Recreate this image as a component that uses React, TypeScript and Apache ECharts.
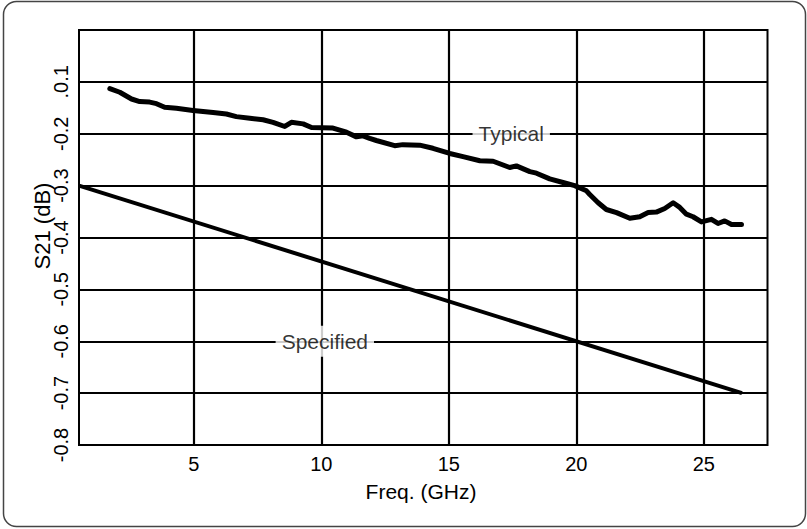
import React, { useEffect, useRef } from 'react';
import * as echarts from 'echarts';

const typicalFreq = [
  1.71, 2.1, 2.56, 2.88, 3.27, 3.54, 3.86, 4.32, 4.97, 5.76, 6.28, 6.67, 7.2, 7.72, 8.11, 8.57, 8.83,
  9.29, 9.62, 10.46, 10.99, 11.38, 11.64, 11.9, 12.16, 12.88, 13.2, 13.86, 14.38, 15.04, 15.56, 16.22,
  16.74, 17.39, 17.65, 18.18, 18.44, 18.96, 19.48, 19.94, 20.4, 20.53, 20.86, 21.18, 21.58, 22.1, 22.49,
  22.82, 23.14, 23.47, 23.8, 24.06, 24.32, 24.58, 24.91, 25.3, 25.56, 25.82, 26.09, 26.48,
];
const typicalS21 = [
  -0.113, -0.12, -0.133, -0.138, -0.139, -0.142, -0.149, -0.151, -0.155, -0.159, -0.162, -0.167, -0.17,
  -0.173, -0.178, -0.186, -0.178, -0.181, -0.188, -0.189, -0.197, -0.206, -0.204, -0.209, -0.213, -0.223,
  -0.221, -0.222, -0.228, -0.238, -0.244, -0.252, -0.253, -0.265, -0.262, -0.273, -0.276, -0.287, -0.294,
  -0.3, -0.31, -0.317, -0.333, -0.346, -0.352, -0.363, -0.36, -0.352, -0.351, -0.344, -0.333, -0.342,
  -0.355, -0.36, -0.37, -0.365, -0.373, -0.368, -0.375, -0.375,
];
const specifiedFreq = [0.5, 26.5];
const specifiedS21 = [-0.3, -0.7];

const xTickValues = [5, 10, 15, 20, 25];
const yTickValues = [-0.8, -0.7, -0.6, -0.5, -0.4, -0.3, -0.2, -0.1];
const yTickLabels = ['-0.8', '-0.7', '-0.6', '-0.5', '-0.4', '-0.3', '-0.2', '.0.1'];

const annotationNames = ['Typical', 'Specified'];
const annotationFreq = [17.45, 10.14];
const annotationS21 = [-0.2, -0.6];

const xAxisTitle = 'Freq. (GHz)';
const yAxisTitle = 'S21 (dB)';

export default function App() {
  const ref = useRef<HTMLDivElement>(null);
  useEffect(() => {
    const chart = echarts.init(ref.current as HTMLDivElement, null, { renderer: 'svg' });
    const font = '"Liberation Sans", Arial, Helvetica, sans-serif';
    const yLabel = (v: number) => {
      const i = yTickValues.findIndex((t) => Math.abs(t - v) < 1e-6);
      return i >= 0 ? yTickLabels[i] : '';
    };
    chart.setOption({
      animation: false,
      backgroundColor: '#fff',
      grid: {
        left: 79,
        top: 30,
        width: 688.5,
        height: 415,
        show: true,
        borderColor: '#000',
        borderWidth: 2,
        backgroundColor: '#fff',
        containLabel: false,
        outerBoundsMode: 'none',
      },
      xAxis: {
        type: 'value',
        min: 0.5,
        max: 27.5,
        axisLine: { show: false },
        axisTick: { show: false, customValues: xTickValues },
        axisLabel: {
          customValues: xTickValues,
          margin: 9,
          color: '#000',
          fontSize: 20,
          fontFamily: font,
        },
        splitLine: { show: true, lineStyle: { color: '#000', width: 2.2 } },
      },
      yAxis: {
        type: 'value',
        min: -0.8,
        max: 0,
        axisLine: { show: false },
        axisTick: { show: false, customValues: yTickValues },
        axisLabel: {
          customValues: yTickValues,
          rotate: 90,
          margin: 8,
          color: '#000',
          fontSize: 20,
          fontFamily: font,
          formatter: yLabel,
        },
        splitLine: { show: true, lineStyle: { color: '#000', width: 2.2 } },
      },
      series: [
        {
          name: 'Typical',
          type: 'line',
          data: typicalFreq.map((f, i) => [f, typicalS21[i]]),
          symbol: 'none',
          lineStyle: { color: '#000', width: 5, join: 'round', cap: 'round' },
          z: 3,
        },
        {
          name: 'Specified',
          type: 'line',
          data: specifiedFreq.map((f, i) => [f, specifiedS21[i]]),
          symbol: 'none',
          lineStyle: { color: '#000', width: 4 },
          z: 3,
        },
        {
          name: 'annotations',
          type: 'scatter',
          data: annotationFreq.map((f, i) => ({ value: [f, annotationS21[i]], name: annotationNames[i] })),
          symbol: 'circle',
          symbolSize: 1,
          itemStyle: { color: '#fff' },
          z: 5,
          label: {
            show: true,
            position: 'inside',
            formatter: (p: any) => p.name,
            color: '#000',
            fontSize: 21,
            fontFamily: font,
            backgroundColor: '#fff',
            padding: [5, 6, 5, 6],
          },
          labelLayout: { hideOverlap: false },
        },
      ],
      graphic: [
        {
          type: 'rect',
          shape: { x: 3.5, y: 1.5, width: 802, height: 525, r: 13 },
          style: { fill: 'none', stroke: '#444', lineWidth: 1.5 },
          z: 10,
        },
        {
          type: 'text',
          x: 421,
          y: 491,
          style: {
            text: xAxisTitle,
            fill: '#000',
            font: `21px ${font}`,
            align: 'center',
            verticalAlign: 'middle',
          },
        },
        {
          type: 'text',
          x: 42,
          y: 226,
          rotation: Math.PI / 2,
          style: {
            text: yAxisTitle,
            fill: '#000',
            font: `22px ${font}`,
            align: 'center',
            verticalAlign: 'middle',
          },
        },
      ],
    });
    return () => chart.dispose();
  }, []);
  return <div ref={ref} style={{ position: 'absolute', left: 0, top: 0, width: 807, height: 529 }} />;
}
